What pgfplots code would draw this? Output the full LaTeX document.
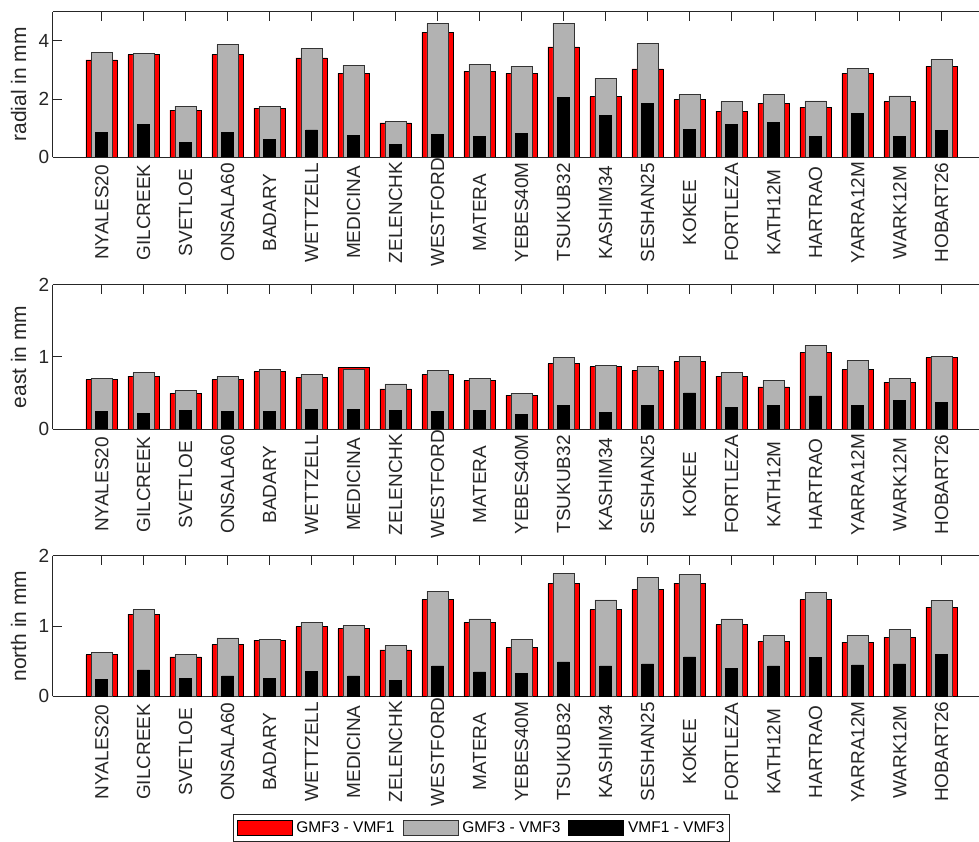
\documentclass[border=0pt]{standalone}
\usepackage{pgfplots}
\usepackage{pgfplotstable}
\pgfplotsset{compat=1.18}
\usepackage{fontspec}
\setmainfont{Liberation Sans}

\definecolor{axcol}{rgb}{0.15,0.15,0.15}
\definecolor{barred}{rgb}{1,0,0}
\definecolor{bargray}{rgb}{0.70,0.70,0.70}

% station-wise RMS differences in mm
\pgfplotstableread{
x  red   gray  black
1  3.34  3.59  0.85
2  3.52  3.55  1.13
3  1.61  1.75  0.50
4  3.52  3.87  0.85
5  1.68  1.75  0.61
6  3.41  3.73  0.93
7  2.88  3.15  0.74
8  1.17  1.22  0.43
9  4.29  4.59  0.78
10 2.95  3.20  0.71
11 2.88  3.12  0.81
12 3.79  4.61  2.05
13 2.07  2.71  1.42
14 3.03  3.91  1.84
15 1.97  2.14  0.96
16 1.58  1.90  1.13
17 1.85  2.14  1.20
18 1.71  1.93  0.71
19 2.88  3.05  1.51
20 1.90  2.10  0.71
21 3.12  3.37  0.91
}\radialdata

\pgfplotstableread{
x  red   gray  black
1  0.683 0.706 0.243
2  0.734 0.780 0.216
3  0.495 0.537 0.260
4  0.683 0.734 0.243
5  0.794 0.820 0.243
6  0.720 0.760 0.275
7  0.849 0.820 0.275
8  0.555 0.624 0.260
9  0.752 0.807 0.243
10 0.670 0.700 0.260
11 0.468 0.495 0.200
12 0.904 0.990 0.330
13 0.862 0.876 0.229
14 0.807 0.862 0.330
15 0.936 1.005 0.500
16 0.734 0.780 0.303
17 0.583 0.670 0.330
18 1.060 1.160 0.459
19 0.820 0.950 0.330
20 0.651 0.706 0.400
21 0.990 1.005 0.372
}\eastdata

\pgfplotstableread{
x  red   gray  black
1  0.590 0.620 0.240
2  1.170 1.230 0.375
3  0.560 0.590 0.255
4  0.735 0.830 0.290
5  0.800 0.810 0.255
6  0.990 1.050 0.356
7  0.960 1.005 0.290
8  0.660 0.720 0.226
9  1.375 1.495 0.433
10 1.050 1.100 0.346
11 0.690 0.810 0.327
12 1.600 1.745 0.490
13 1.230 1.370 0.433
14 1.520 1.690 0.460
15 1.610 1.730 0.560
16 1.020 1.100 0.400
17 0.780 0.870 0.433
18 1.375 1.476 0.548
19 0.770 0.870 0.447
20 0.840 0.947 0.460
21 1.270 1.360 0.590
}\northdata

\pgfplotsset{
  panel/.style={
    scale only axis,
    width=926.3pt,
    xmin=-0.167, xmax=21.89,
    ymin=0,
    axis y line*=left,
    axis line style={axcol, line width=0.7pt},
    tick style={axcol, line width=0.7pt},
    tick align=inside,
    major tick length=9.5pt,
    xtick={1,...,21},
    xticklabels={NYALES20,GILCREEK,SVETLOE,ONSALA60,BADARY,WETTZELL,MEDICINA,ZELENCHK,WESTFORD,MATERA,YEBES40M,TSUKUB32,KASHIM34,SESHAN25,KOKEE,FORTLEZA,KATH12M,HARTRAO,YARRA12M,WARK12M,HOBART26},
    xticklabel style={font=\fontsize{19}{22}\selectfont, text=axcol,
      anchor=center, yshift=-55.5pt, rotate=90},
    yticklabel style={font=\fontsize{19}{22}\selectfont, text=axcol},
    /pgf/number format/assume math mode=true,
    ylabel style={font=\fontsize{21}{24}\selectfont, text=axcol,
      at={(axis description cs:-0.0288,0.5)}, anchor=base},
  },
  redbar/.style={ybar, bar shift=0pt, bar width=0.75, fill=barred, draw=black, line width=0.7pt},
  graybar/.style={ybar, bar shift=0pt, bar width=0.51, fill=bargray, draw=black!80, line width=0.7pt},
  blackbar/.style={ybar, bar shift=0pt, bar width=0.28, fill=black, draw=black, line width=0.7pt},
}

\begin{document}
\begin{tikzpicture}
\useasboundingbox (0pt,0pt) rectangle (979pt,841pt);

% radial component
\begin{axis}[panel, at={(52.7pt,684pt)}, anchor=south west,
  height=145.3pt, ymax=5, ytick={0,2,4}, ylabel={radial in mm}]
  \addplot[redbar]   table[x=x,y=red]   {\radialdata};
  \addplot[graybar]  table[x=x,y=gray]  {\radialdata};
  \addplot[blackbar] table[x=x,y=black] {\radialdata};
\end{axis}

% east component
\begin{axis}[panel, at={(52.7pt,412pt)}, anchor=south west,
  height=144.3pt, ymax=2, ytick={0,1,2}, ylabel={east in mm}]
  \addplot[redbar]   table[x=x,y=red]   {\eastdata};
  \addplot[graybar]  table[x=x,y=gray]  {\eastdata};
  \addplot[blackbar] table[x=x,y=black] {\eastdata};
\end{axis}

% north component, with the shared legend below it
\begin{axis}[panel, at={(52.7pt,144.7pt)}, anchor=south west,
  height=140.6pt, ymax=2, ytick={0,1,2}, ylabel={north in mm},
  legend columns=3,
  legend style={at={(axis description cs:0.195,-0.839)}, anchor=north west,
    draw=axcol, line width=0.7pt, font=\fontsize{15.5}{18}\selectfont,
    text=black, inner xsep=3pt, inner ysep=5pt,
    /tikz/every odd column/.append style={column sep=2pt},
    /tikz/every even column/.append style={column sep=6pt},
    cells={anchor=west}},
  legend image code/.code={\draw[#1, bar width=0pt] (0pt,-7.5pt) rectangle (55pt,7.5pt);},
]
  \addplot[redbar]   table[x=x,y=red]   {\northdata};
  \addplot[graybar]  table[x=x,y=gray]  {\northdata};
  \addplot[blackbar] table[x=x,y=black] {\northdata};
  \legend{GMF3 - VMF1, GMF3 - VMF3, VMF1 - VMF3}
\end{axis}
\end{tikzpicture}
\end{document}
